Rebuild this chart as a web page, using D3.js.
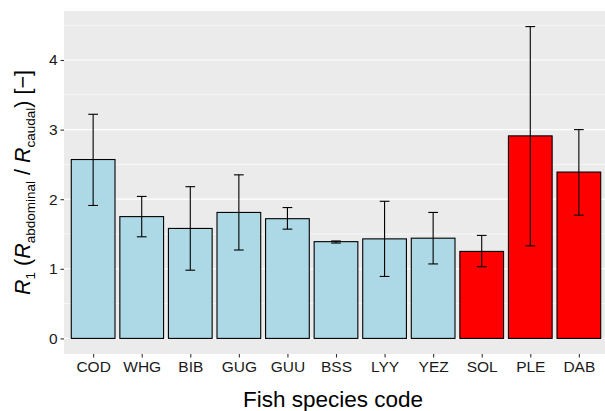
<!DOCTYPE html>
<html>
<head>
<meta charset="utf-8">
<script src="https://cdn.jsdelivr.net/npm/d3@7"></script>
<style>
  body { margin: 0; background: #fff; }
  svg { display: block; font-family: "Liberation Sans", Arial, sans-serif; }
</style>
</head>
<body>
<div id="chart"></div>
<script>
// data
const species = ["COD", "WHG", "BIB", "GUG", "GUU", "BSS", "LYY", "YEZ", "SOL", "PLE", "DAB"];
const meanR1  = [2.57, 1.75, 1.58, 1.81, 1.72, 1.39, 1.43, 1.44, 1.25, 2.91, 2.39];
const lowerR1 = [1.91, 1.46, 0.98, 1.27, 1.57, 1.37, 0.89, 1.07, 1.03, 1.33, 1.77];
const upperR1 = [3.22, 2.04, 2.18, 2.35, 1.88, 1.40, 1.97, 1.81, 1.48, 4.48, 3.00];
const flatfish = ["SOL", "PLE", "DAB"];
const yTicks = [0, 1, 2, 3, 4];

const width = 605, height = 411;
const margin = {top: 11, right: -3, bottom: 57, left: 64};
const pw = width - margin.left - margin.right;
const ph = height - margin.top - margin.bottom;

const rows = species.map((s, i) => ({code: s, mean: meanR1[i], lo: lowerR1[i], hi: upperR1[i]}));

const svg = d3.select("#chart").append("svg")
  .attr("width", width).attr("height", height);

const g = svg.append("g").attr("transform", "translate(" + margin.left + "," + margin.top + ")");

// ggplot-ish expansion: discrete 0.6 units, continuous 5%
const x = d3.scalePoint().domain(species).range([0, pw]).padding(0.6);
const step = x.step();
const yMax = d3.max(upperR1);
const ext = yMax * 0.05;
const y = d3.scaleLinear().domain([-ext, yMax + ext]).range([ph, 0]);

g.append("rect").attr("width", pw).attr("height", ph).attr("fill", "#EBEBEB");

// minor + major horizontal grid
const minor = d3.range(0.5, yMax + ext, 1);
g.selectAll("line.minor").data(minor).enter().append("line")
  .attr("x1", 0).attr("x2", pw)
  .attr("y1", d => y(d)).attr("y2", d => y(d))
  .attr("stroke", "#fff").attr("stroke-width", 0.6);
g.selectAll("line.major").data(yTicks).enter().append("line")
  .attr("x1", 0).attr("x2", pw)
  .attr("y1", d => y(d)).attr("y2", d => y(d))
  .attr("stroke", "#fff").attr("stroke-width", 1.2);

const bw = step * 0.9;
g.selectAll("rect.bar").data(rows).enter().append("rect")
  .attr("class", "bar")
  .attr("x", d => x(d.code) - bw / 2)
  .attr("width", bw)
  .attr("y", d => y(d.mean))
  .attr("height", d => y(0) - y(d.mean))
  .attr("fill", d => flatfish.includes(d.code) ? "#FF0000" : "#ADD8E6")
  .attr("stroke", "#000").attr("stroke-width", 1.1);

// error bars, width 0.2
const cw = step * 0.2;
const eb = g.selectAll("g.err").data(rows).enter().append("g")
  .attr("stroke", "#000").attr("stroke-width", 1.1);
eb.append("line")
  .attr("x1", d => x(d.code)).attr("x2", d => x(d.code))
  .attr("y1", d => y(d.lo)).attr("y2", d => y(d.hi));
eb.append("line")
  .attr("x1", d => x(d.code) - cw / 2).attr("x2", d => x(d.code) + cw / 2)
  .attr("y1", d => y(d.hi)).attr("y2", d => y(d.hi));
eb.append("line")
  .attr("x1", d => x(d.code) - cw / 2).attr("x2", d => x(d.code) + cw / 2)
  .attr("y1", d => y(d.lo)).attr("y2", d => y(d.lo));

// axes
const axX = g.append("g").attr("transform", "translate(0," + ph + ")")
  .call(d3.axisBottom(x).tickSize(3.5).tickPadding(3));
const axY = g.append("g")
  .call(d3.axisLeft(y).tickValues(yTicks).tickFormat(d3.format("d")).tickSize(3.5).tickPadding(3));
[axX, axY].forEach(a => {
  a.select(".domain").remove();
  a.selectAll(".tick line").attr("stroke", "#333").attr("stroke-width", 1.1);
  a.selectAll(".tick text").attr("fill", "#1a1a1a").attr("font-size", 15.5)
    .attr("font-family", "Liberation Sans, Arial, sans-serif");
});

// axis titles
svg.append("text")
  .attr("x", margin.left + pw / 2 - 3).attr("y", 407)
  .attr("text-anchor", "middle").attr("font-size", 22.5).attr("fill", "#000")
  .text("Fish species code");

const yt = svg.append("text")
  .attr("transform", "translate(30," + (margin.top + ph / 2) + ") rotate(-90)")
  .attr("text-anchor", "middle").attr("font-size", 21.5).attr("fill", "#000");
const parts = [
  ["R", "italic", false], ["1", null, true], [" (", null, false],
  ["R", "italic", false], ["abdominal", null, true], [" / ", null, false],
  ["R", "italic", false], ["caudal", null, true], [") [\u2212]", null, false]
];
parts.forEach(p => {
  const t = yt.append("tspan").text(p[0]);
  if (p[1]) t.attr("font-style", p[1]);
  if (p[2]) t.attr("font-size", 13.5).attr("dy", 5);
  else t.attr("dy", 0);
});
// reset baseline after each subscript
yt.selectAll("tspan").each(function(d, i, nodes) {
  if (i > 0 && parts[i - 1][2] && !parts[i][2]) d3.select(this).attr("dy", -5);
});
</script>
</body>
</html>
